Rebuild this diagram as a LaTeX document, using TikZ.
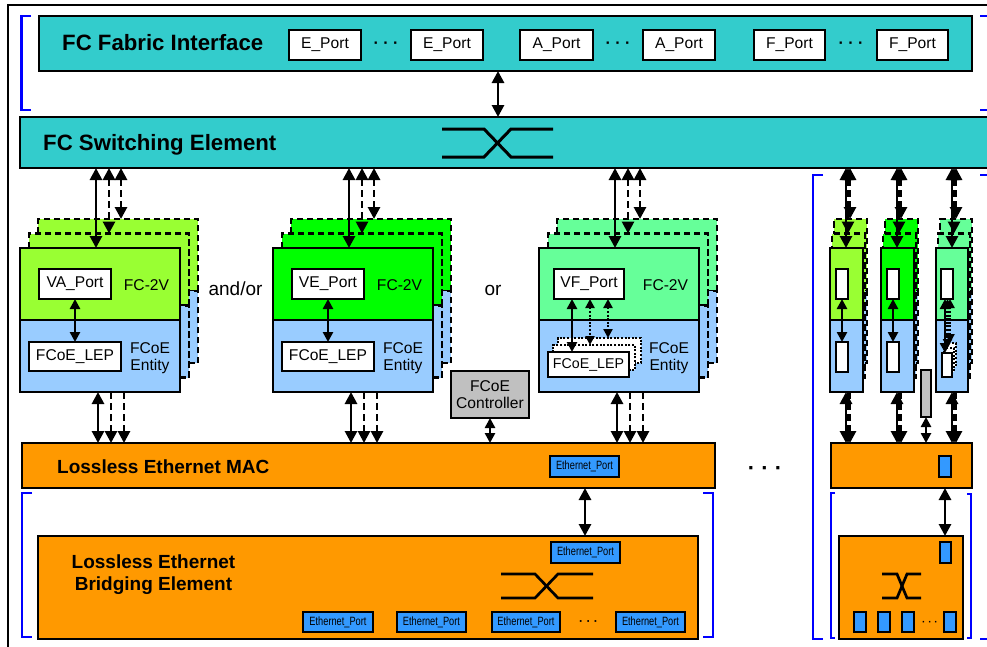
\documentclass[tikz,border=0pt]{standalone}
\usepackage{fontspec}
\setmainfont{Liberation Sans}
\usepackage{graphicx}
\usetikzlibrary{arrows.meta}

\definecolor{tealc}{HTML}{33CCCC}
\definecolor{orgc}{HTML}{FF9900}
\definecolor{entblue}{HTML}{99CCFF}
\definecolor{vagreen}{HTML}{99FF33}
\definecolor{vegreen}{HTML}{00FF00}
\definecolor{vfgreen}{HTML}{66FF99}
\definecolor{ethblue}{HTML}{3399FF}
\definecolor{ctrlgray}{HTML}{C0C0C0}
\definecolor{brkblue}{HTML}{0000FF}

\newcommand\titlefont{\fontsize{22.2}{25}\selectfont\bfseries}
\newcommand\subtitlefont{\fontsize{19}{22.5}\selectfont\bfseries}
\newcommand\portfont{\fontsize{15.6}{16.7}\selectfont}
\newcommand\ethfont{\fontsize{12}{14}\selectfont}
\newcommand\ethtxt{\scalebox{0.77}[1]{Ethernet\_Port}}

\newcommand\mkbox[7]{\node[box,minimum width={(#4)-(#2)},minimum height={(#5)-(#3)},#6] (#1) at (#2,#3) {#7};}

\tikzset{
  box/.style={draw=black, line width=2pt, inner sep=0pt, outer sep=0pt, anchor=north west, rectangle},
  copyb/.style={dash pattern=on 6.5pt off 3.5pt, line width=2.6pt},
  dotc/.style={dash pattern=on 2pt off 1.6pt, line width=2.5pt, fill=white},
  eport/.style={fill=ethblue, font=\ethfont},
  wport/.style={fill=white, font=\portfont},
  lbl/.style={font=\portfont, inner sep=0pt},
  arr/.style={line width=2.8pt, {Triangle[length=12pt,width=12pt]}-{Triangle[length=12pt,width=12pt]}},
  arrd/.style={arr, dash pattern=on 7pt off 4pt},
  arrd1/.style={line width=2.8pt, -{Triangle[length=12pt,width=12pt]}, dash pattern=on 7pt off 4pt},
  arrs/.style={line width=2.6pt, {Triangle[length=10pt,width=10pt]}-{Triangle[length=10pt,width=10pt]}},
  arrdot/.style={line width=2.6pt, {Triangle[length=9pt,width=9pt]}-{Triangle[length=9pt,width=9pt]}, dash pattern=on 2pt off 1.6pt},
  brk/.style={draw=brkblue, line width=2.8pt},
  sw/.style={draw=black, line width=3pt},
  dotsf/.style={inner sep=0pt, font=\fontsize{16}{18}\selectfont\bfseries},
}

\newcommand\fcgroup[3]{%
\begin{scope}[xshift=#2pt]
\mkbox{#1c2t}{38}{219}{198}{291}{copyb,fill=#3}{}
\mkbox{#1c2b}{38}{291}{198}{363}{copyb,fill=entblue}{}
\mkbox{#1c1t}{29}{233.5}{189}{305.5}{copyb,fill=#3}{}
\mkbox{#1c1b}{29}{305.5}{189}{377.5}{copyb,fill=entblue}{}
\mkbox{#1t}{20}{248}{180}{320}{fill=#3}{}
\mkbox{#1b}{20}{320}{180}{392}{fill=entblue}{}
\node[lbl,anchor=base] (#1fc) at (146.5,290) {FC-2V};
\node[lbl,align=center] (#1en) at (150,358.5) {FCoE\\Entity};
\draw[arr] (fcse.south -| 96,0) -- (#1t.north -| 96,0);
\draw[arrd] (fcse.south -| 109,0) -- (#1c1t.north -| 109,0);
\draw[arrd] (fcse.south -| 121,0) -- (#1c2t.north -| 121,0);
\draw[arr] (#1b.south -| 98,0) -- (mac.north -| 98,0);
\draw[arrd1] (#1b.south -| 111,0) -- (mac.north -| 111,0);
\draw[arrd1] (#1b.south -| 124,0) -- (mac.north -| 124,0);
\end{scope}}

\newcommand\minigroup[4]{%
\begin{scope}[xshift=#2pt]
\mkbox{#1c2t}{4}{219}{4+#4}{291}{copyb,fill=#3}{}
\mkbox{#1c2b}{4}{291}{4+#4}{363}{copyb,fill=entblue}{}
\mkbox{#1c1t}{2}{233.5}{2+#4}{305.5}{copyb,fill=#3}{}
\mkbox{#1c1b}{2}{305.5}{2+#4}{377.5}{copyb,fill=entblue}{}
\mkbox{#1t}{0}{248}{#4}{320}{fill=#3}{}
\mkbox{#1b}{0}{320}{#4}{392}{fill=entblue}{}
\draw[arr] (fcse.south -| 16,0) -- (#1t.north -| 16,0);
\draw[arrd] (fcse.south -| 18,0) -- (#1c1t.north -| 18,0);
\draw[arrd] (fcse.south -| 20,0) -- (#1c2t.north -| 20,0);
\draw[arr] (#1b.south -| 16,0) -- (mac2.north -| 16,0);
\draw[arrd1] (#1b.south -| 18,0) -- (mac2.north -| 18,0);
\draw[arrd1] (#1b.south -| 20,0) -- (mac2.north -| 20,0);
\end{scope}}

\begin{document}
\begin{tikzpicture}[x=1pt,y=-1pt]
\useasboundingbox (0,0) rectangle (987,646);
\fill[white] (0,0) rectangle (987,646);

% outer frame
\draw[line width=2.2pt] (990,5) -- (8,5) -- (8,650);

% blue brackets
\draw[brk] (31,16) -- (21.5,16) -- (21.5,110) -- (31,110);
\draw[brk] (980,16) -- (990,16);
\draw[brk] (980,110) -- (990,110);
\draw[brk] (980,175) -- (990,175);
\draw[brk] (980,639) -- (990,639);
\draw[brk] (32,493) -- (22,493) -- (22,637) -- (32,637);
\draw[brk] (703,493) -- (713,493) -- (713,637) -- (703,637);
\draw[brk] (823,175) -- (813,175) -- (813,639) -- (823,639);
\draw[brk] (835,493) -- (831,493) -- (831,638) -- (835,638);
\draw[brk] (967,494) -- (971,494) -- (971,638) -- (967,638);

% FC Fabric Interface
\mkbox{fcfi}{39}{16}{972}{71}{fill=tealc}{}
\node[inner sep=0pt, anchor=base west, font=\titlefont] (fcfit) at (62,50.7) {FC Fabric Interface};
\mkbox{ep1}{289}{30}{361}{60}{wport}{E\_Port}
\node[dotsf, anchor=base] (dt1) at (386,48.8) {· · ·};
\mkbox{ep2}{411}{30}{483}{60}{wport}{E\_Port}
\mkbox{ap1}{520}{30}{593}{60}{wport}{A\_Port}
\node[dotsf, anchor=base] (dt2) at (618,48.8) {· · ·};
\mkbox{ap2}{643}{30}{715}{60}{wport}{A\_Port}
\mkbox{fp1}{754}{30}{825}{60}{wport}{F\_Port}
\node[dotsf, anchor=base] (dt3) at (851,48.8) {· · ·};
\mkbox{fp2}{877}{30}{948}{60}{wport}{F\_Port}

% FC Switching Element
\mkbox{fcse}{20}{117}{995}{168}{fill=tealc}{}
\node[inner sep=0pt, anchor=base west, font=\titlefont] (fcset) at (43,150) {FC Switching Element};
\draw[sw] (442,129) -- (484,129) -- (511,157) -- (553,157);
\draw[sw] (442,157) -- (484,157) -- (511,129) -- (553,129);
\draw[arr] (fcfi.south -| 498,0) -- (fcse.north -| 498,0);

% Lossless Ethernet MAC
\mkbox{mac}{22}{443}{715}{488}{fill=orgc}{}
\node[inner sep=0pt, anchor=base west, font=\subtitlefont] (mact) at (57,473) {Lossless Ethernet MAC};
\mkbox{macp}{550}{456}{619}{477}{eport}{\ethtxt}

% Bridging element
\mkbox{brg}{38}{536}{698}{639}{fill=orgc}{}
\node[inner sep=0pt, align=center, font=\subtitlefont] (brgt) at (153.5,574.5) {Lossless Ethernet\\Bridging Element};
\mkbox{brgp}{551}{542}{620}{563}{eport}{\ethtxt}
\draw[sw, line width=2.7pt] (501,574) -- (535,574) -- (558,598) -- (593,598);
\draw[sw, line width=2.7pt] (501,598) -- (535,598) -- (558,574) -- (593,574);
\mkbox{bp1}{303}{612}{373}{632}{eport}{\ethtxt}
\mkbox{bp2}{397}{612}{466}{632}{eport}{\ethtxt}
\mkbox{bp3}{492}{612}{560}{632}{eport}{\ethtxt}
\node[inner sep=0pt, anchor=base, font=\fontsize{12}{14}\selectfont\bfseries] (dt4) at (588.5,625.5) {· · ·};
\mkbox{bp4}{616}{612}{685}{632}{eport}{\ethtxt}
\draw[arr] (mac.south -| 585,0) -- (brg.north -| 585,0);

% right MAC and bridging
\mkbox{mac2}{831}{443}{972}{488}{fill=orgc}{}
\mkbox{mac2p}{939}{456}{951}{477}{fill=ethblue}{}
\mkbox{brg2}{839}{536}{963}{639}{fill=orgc}{}
\mkbox{brg2p}{940}{542}{951}{563}{fill=ethblue}{}
\draw[sw, line width=2.7pt] (882,574) -- (897,574) -- (907,598) -- (921,598);
\draw[sw, line width=2.7pt] (882,598) -- (897,598) -- (907,574) -- (921,574);
\mkbox{b2p1}{854}{612}{866}{632}{fill=ethblue}{}
\mkbox{b2p2}{878}{612}{890}{632}{fill=ethblue}{}
\mkbox{b2p3}{902}{612}{914}{632}{fill=ethblue}{}
\node[inner sep=0pt, anchor=base, font=\fontsize{10}{12}\selectfont\bfseries] (dt5) at (930,625) {· · ·};
\mkbox{b2p4}{944}{612}{956}{632}{fill=ethblue}{}
\draw[arr] (mac2.south -| 945,0) -- (brg2.north -| 945,0);

% dots between columns
\node[inner sep=0pt, anchor=base, font=\fontsize{22}{24}\selectfont\bfseries] (dt6) at (765,475) {· · ·};

% FC groups
\fcgroup{ga}{0}{vagreen}
\fcgroup{gb}{253}{vegreen}
\fcgroup{gc}{519}{vfgreen}

\mkbox{gap}{39}{269}{111}{299}{wport}{VA\_Port}
\mkbox{gal}{29}{342}{121}{371}{wport}{FCoE\_LEP}
\draw[arrs] (gap.south) -- (gal.north);

\mkbox{gbp}{292}{269}{364}{299}{wport}{VE\_Port}
\mkbox{gbl}{282}{342}{374}{371}{wport}{FCoE\_LEP}
\draw[arrs] (gbp.south) -- (gbl.north);

\mkbox{gcp}{554}{269}{624}{299}{wport}{VF\_Port}
\mkbox{gcl2}{558}{338}{641}{363}{dotc}{}
\mkbox{gcl1}{553}{345}{635}{370}{dotc}{}
\mkbox{gcl}{548}{352}{629}{377}{fill=white, font=\fontsize{14.2}{16}\selectfont}{FCoE\_LEP}
\draw[arrs] (gcp.south -| 572,0) -- (gcl.north -| 572,0);
\draw[arrdot] (gcp.south -| 590,0) -- (gcl1.north -| 590,0);
\draw[arrdot] (gcp.south -| 608,0) -- (gcl2.north -| 608,0);

\node[lbl, anchor=base, font=\fontsize{19}{22}\selectfont] (andor) at (235.5,295) {and/or};
\node[lbl, anchor=base, font=\fontsize{19}{22}\selectfont] (ortxt) at (493,295) {or};

% FCoE Controller
\mkbox{ctrl}{451}{371}{529}{418}{fill=ctrlgray, align=center, font=\portfont}{FCoE\\Controller}
\draw[arrs] (ctrl.south) -- (mac.north -| ctrl.south);

% right column mini groups
\minigroup{ra}{830}{vagreen}{33}
\minigroup{rb}{881}{vegreen}{33}
\minigroup{rc}{936}{vfgreen}{32}

\mkbox{rap1}{836}{269}{848}{299}{fill=white}{}
\mkbox{rap2}{836}{342}{848}{372}{fill=white}{}
\draw[arrs] (rap1.south) -- (rap2.north);
\mkbox{rbp1}{887}{269}{899}{299}{fill=white}{}
\mkbox{rbp2}{887}{342}{899}{372}{fill=white}{}
\draw[arrs] (rbp1.south) -- (rbp2.north);
\mkbox{rcp1}{941}{269}{953}{299}{fill=white}{}
\mkbox{rcl2}{946}{343}{956}{367}{dotc, line width=1.6pt}{}
\mkbox{rcl1}{944}{348}{954}{372}{dotc, line width=1.6pt}{}
\mkbox{rcp2}{942}{353}{952}{377}{fill=white}{}
\draw[arrs] (rcp1.south -| 945,0) -- (rcp2.north -| 945,0);
\draw[arrdot] (rcp1.south -| 947.5,0) -- (rcl1.north -| 947.5,0);
\draw[arrdot] (rcp1.south -| 950,0) -- (rcl2.north -| 950,0);

\mkbox{rctrl}{921}{370}{931}{417}{fill=ctrlgray}{}
\draw[arrs] (rctrl.south) -- (mac2.north -| rctrl.south);
\end{tikzpicture}
\end{document}
